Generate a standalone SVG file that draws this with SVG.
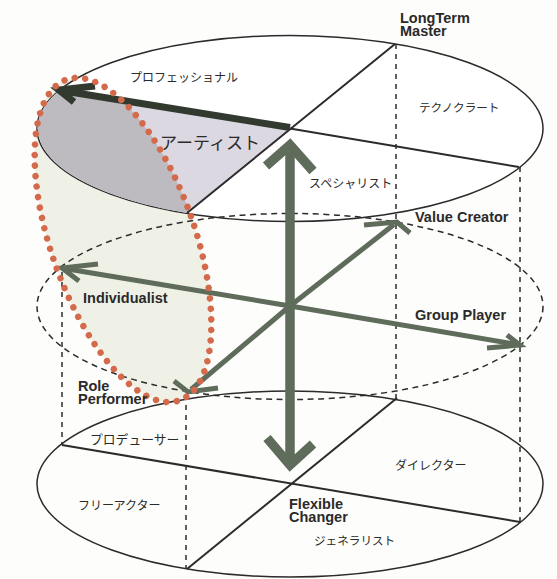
<svg xmlns="http://www.w3.org/2000/svg" width="557" height="579" viewBox="0 0 557 579">
<style>
.thin{fill:none;stroke:#2b2b2b;stroke-width:2}
.outline{fill:none;stroke:#2b2b2b;stroke-width:1.5}
.dash{fill:none;stroke:#2b2b2b;stroke-width:1.5;stroke-dasharray:6 4.5}
.vdash{fill:none;stroke:#2b2b2b;stroke-width:1.5;stroke-dasharray:5 5}
.axis{fill:none;stroke:#5f6b5b;stroke-width:5;stroke-linejoin:miter}
.big{fill:none;stroke:#5f6b5b;stroke-width:9.5;stroke-linejoin:miter}
.blk{fill:none;stroke:#323a30;stroke-width:7;stroke-linejoin:miter}
.en{font-family:"Liberation Sans",Arial,sans-serif;font-weight:bold;font-size:14.5px;fill:#2a2a2a}
.jp{font-family:"Noto Sans CJK JP","Noto Sans",sans-serif;font-size:12px;fill:#2a2a2a}
</style>
<defs>
<clipPath id="redclip"><ellipse cx="123" cy="240" rx="72" ry="170" transform="rotate(-19.4 123 240)"/></clipPath>
</defs>
<rect width="557" height="579" fill="#fdfdfb"/>

<g id="artist-zone-fill">
<ellipse cx="123" cy="240" rx="72" ry="170" transform="rotate(-19.4 123 240)" fill="#f0f1e6"/>
</g>

<g id="ellipse-top">
<ellipse cx="290" cy="128.5" rx="253" ry="93" fill="#ffffff" stroke="#2b2b2b" stroke-width="1.5"/>
<path d="M290,128.5 L60,90 A253,93 0 0,0 187,213 Z" fill="#dcd8e2"/>
<path d="M290,128.5 L60,90 A253,93 0 0,0 187,213 Z" fill="#bdbbbf" clip-path="url(#redclip)"/>
<line class="thin" x1="290" y1="128.5" x2="519" y2="167"/>
<line class="thin" x1="395" y1="44" x2="187" y2="213"/>
</g>

<g id="ellipse-middle">
<ellipse class="dash" cx="290" cy="306.5" rx="253" ry="93"/>
</g>

<g id="ellipse-bottom">
<ellipse class="outline" cx="290" cy="484" rx="253" ry="93"/>
<line class="thin" x1="62" y1="445" x2="520" y2="522"/>
<line class="thin" x1="397" y1="398" x2="187" y2="569"/>
</g>

<g id="connectors">
<line class="vdash" x1="396" y1="44" x2="396" y2="398"/>
<line class="vdash" x1="520" y1="167" x2="520" y2="522"/>
<line class="vdash" x1="62" y1="272" x2="62" y2="445"/>
<line class="vdash" x1="186" y1="395" x2="186" y2="569"/>

<line class="axis" x1="290" y1="306" x2="66" y2="268.7"/>
<polyline class="axis" points="98,264 62,268 79,281"/>
<line class="axis" x1="290" y1="306" x2="394" y2="224.5"/>
<polyline class="axis" points="364,225 397,222 410,233"/>
<line class="axis" x1="290" y1="306" x2="516" y2="344.3"/>
<polyline class="axis" points="487,348 520,345 507,335"/>
<line class="axis" x1="290" y1="306" x2="191" y2="389.5"/>
<polyline class="axis" points="174,381 188,392 218,388"/>

<line class="big" x1="290" y1="152" x2="290" y2="458"/>
<polyline class="big" points="266,166 290,145 313,171"/>
<polyline class="big" points="267,438 290,465 313,444"/>

<line class="blk" x1="290" y1="127.5" x2="64" y2="91"/>
<polyline class="blk" points="95,86 59,90 74,102"/>
</g>

<g id="artist-zone-outline">
<ellipse cx="123" cy="240" rx="72" ry="170" transform="rotate(-19.4 123 240)" fill="none" stroke="#d46a4c" stroke-width="6.5" stroke-linecap="round" stroke-dasharray="0 10.56"/>
</g>

<g id="node-longterm-master"><text class="en" x="400" y="23"><tspan x="400" y="23">LongTerm</tspan><tspan x="400" y="35.5">Master</tspan></text></g>
<g id="node-value-creator"><text class="en" x="415" y="222">Value Creator</text></g>
<g id="node-group-player"><text class="en" x="415" y="320">Group Player</text></g>
<g id="node-individualist"><text class="en" x="83" y="303">Individualist</text></g>
<g id="node-role-performer"><text class="en" x="78" y="391"><tspan x="78" y="391">Role</tspan><tspan x="78" y="403.5">Performer</tspan></text></g>
<g id="node-flexible-changer"><text class="en" x="289" y="509"><tspan x="289" y="509">Flexible</tspan><tspan x="289" y="522">Changer</tspan></text></g>

<g id="node-professional"><text class="jp" x="130" y="81.5">プロフェッショナル</text></g>
<g id="node-artist"><text class="jp" x="160" y="148.5" style="font-size:17px">アーティスト</text></g>
<g id="node-technocrat"><text class="jp" x="419" y="111.5" style="font-size:11.6px">テクノクラート</text></g>
<g id="node-specialist"><text class="jp" x="309" y="187.5">スペシャリスト</text></g>
<g id="node-producer"><text class="jp" x="90" y="444" style="font-size:12.8px">プロデューサー</text></g>
<g id="node-free-actor"><text class="jp" x="78" y="509.5">フリーアクター</text></g>
<g id="node-director"><text class="jp" x="395" y="469.5">ダイレクター</text></g>
<g id="node-generalist"><text class="jp" x="314" y="544.5" style="font-size:11.6px">ジェネラリスト</text></g>
</svg>
